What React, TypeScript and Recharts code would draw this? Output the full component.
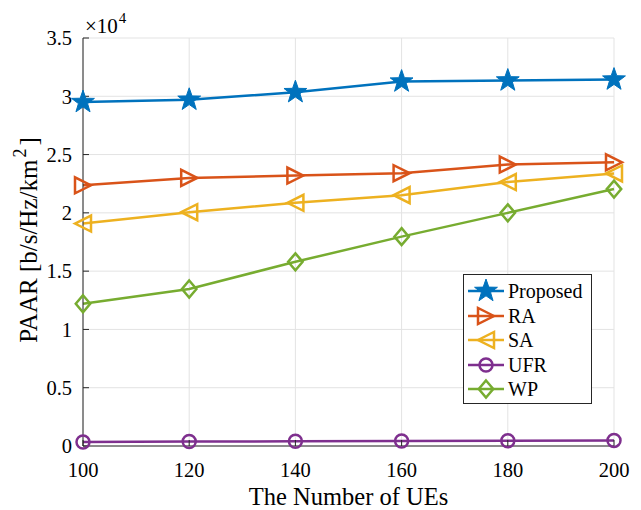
import React from "react";
import { LineChart, Line, XAxis, YAxis, CartesianGrid } from "recharts";

// number of UEs on the x axis
const ues = [100, 120, 140, 160, 180, 200];

// PAAR values in b/s/Hz/km^2 (axis shows them scaled by 1e4)
const proposed = [29500, 29700, 30350, 31260, 31350, 31430];
const ra = [22360, 23000, 23200, 23400, 24140, 24340];
const sa = [19080, 20060, 20860, 21520, 22640, 23380];
const ufr = [350, 380, 400, 430, 450, 480];
const wp = [12200, 13470, 15800, 17960, 20000, 22040];

const yTicks = [0, 5000, 10000, 15000, 20000, 25000, 30000, 35000];

const series = [
  { key: "proposed", name: "Proposed", color: "#0072BD", shape: "star" },
  { key: "ra", name: "RA", color: "#D95319", shape: "right" },
  { key: "sa", name: "SA", color: "#EDB120", shape: "left" },
  { key: "ufr", name: "UFR", color: "#7E2F8E", shape: "circle" },
  { key: "wp", name: "WP", color: "#77AC30", shape: "diamond" },
];

const data = ues.map((u, i) => ({
  ues: u,
  proposed: proposed[i],
  ra: ra[i],
  sa: sa[i],
  ufr: ufr[i],
  wp: wp[i],
}));

const FONT = "'Liberation Serif', 'Times New Roman', serif";
const AXIS = "#262626";

const Marker = ({ cx, cy, shape, color }: any) => {
  if (cx == null || cy == null) return null;
  const sw = 2.5;
  if (shape === "star") {
    const pts: string[] = [];
    for (let i = 0; i < 10; i++) {
      const r = i % 2 === 0 ? 12 : 4.8;
      const a = -Math.PI / 2 + (i * Math.PI) / 5;
      pts.push(`${cx + r * Math.cos(a)},${cy + r * Math.sin(a)}`);
    }
    return <polygon points={pts.join(" ")} fill={color} stroke={color} strokeWidth={1} />;
  }
  if (shape === "right") {
    const s = 8;
    return (
      <polygon
        points={`${cx + s},${cy} ${cx - s},${cy - s} ${cx - s},${cy + s}`}
        fill="none"
        stroke={color}
        strokeWidth={sw}
      />
    );
  }
  if (shape === "left") {
    const s = 8;
    return (
      <polygon
        points={`${cx - s},${cy} ${cx + s},${cy - s} ${cx + s},${cy + s}`}
        fill="none"
        stroke={color}
        strokeWidth={sw}
      />
    );
  }
  if (shape === "circle") {
    return <circle cx={cx} cy={cy} r={6.5} fill="none" stroke={color} strokeWidth={sw} />;
  }
  const s = 8.5;
  return (
    <polygon
      points={`${cx},${cy - s} ${cx + s * 0.85},${cy} ${cx},${cy + s} ${cx - s * 0.85},${cy}`}
      fill="none"
      stroke={color}
      strokeWidth={sw}
    />
  );
};

const LegendBox = () => (
  <div
    style={{
      position: "absolute",
      left: 463,
      top: 274,
      boxSizing: "border-box",
      width: 129,
      height: 130,
      border: `1px solid ${AXIS}`,
      background: "#fff",
      padding: "4px 0 0 0",
      fontFamily: FONT,
      fontSize: 20,
      color: "#000",
    }}
  >
    {series.map((s) => (
      <div key={s.key} style={{ display: "flex", alignItems: "center", height: 24.5 }}>
        <svg width={44} height={24} style={{ flex: "none" }}>
          <line x1={4} y1={12} x2={40} y2={12} stroke={s.color} strokeWidth={2.5} />
          <Marker cx={22} cy={12} shape={s.shape} color={s.color} />
        </svg>
        <span style={{ lineHeight: "20px" }}>{s.name}</span>
      </div>
    ))}
  </div>
);

const YLabel = () => (
  <text
    x={0}
    y={0}
    transform="translate(37,240) rotate(-90)"
    textAnchor="middle"
    fontFamily={FONT}
    fontSize={25}
    fill="#000"
  >
    PAAR [b/s/Hz/km
    <tspan dx={2} dy={-11} fontSize={18}>2</tspan>
    <tspan dx={3} dy={11}>]</tspan>
  </text>
);

const hideTick = () => <g />;

export default function App() {
  return (
    <div style={{ position: "absolute", left: 0, top: 0, width: 641, height: 510, background: "#fff" }}>
      <LineChart
        width={641}
        height={510}
        data={data}
        margin={{ top: 38, right: 27, bottom: 0, left: 0 }}
      >
        <CartesianGrid stroke="#e3e3e3" strokeWidth={1} />
        <XAxis
          dataKey="ues"
          type="number"
          domain={[100, 200]}
          ticks={ues}
          height={64}
          stroke={AXIS}
          tickSize={-6}
          tickMargin={22}
          tick={{ fontFamily: FONT, fontSize: 20.5, fill: "#000" }}
          label={{
            value: "The Number of UEs",
            position: "insideBottom",
            offset: 5,
            style: { fontFamily: FONT, fontSize: 24.5, fill: "#000" },
          }}
        />
        <XAxis
          xAxisId="top"
          dataKey="ues"
          type="number"
          orientation="top"
          domain={[100, 200]}
          ticks={ues}
          height={0}
          stroke={AXIS}
          tickSize={-6}
          tick={hideTick}
        />
        <YAxis
          type="number"
          domain={[0, 35000]}
          ticks={yTicks}
          width={83}
          stroke={AXIS}
          tickSize={-6}
          tickMargin={17}
          tickFormatter={(v: number) => String(v / 10000)}
          tick={{ fontFamily: FONT, fontSize: 20.5, fill: "#000" }}
          label={{ content: () => <YLabel /> }}
        />
        <YAxis
          yAxisId="right"
          type="number"
          orientation="right"
          domain={[0, 35000]}
          ticks={yTicks}
          width={0}
          stroke={AXIS}
          tickSize={-6}
          tick={hideTick}
        />
        {series.map((s) => (
          <Line
            key={s.key}
            dataKey={s.key}
            name={s.name}
            stroke={s.color}
            strokeWidth={2.5}
            isAnimationActive={false}
            dot={(p: any) => <Marker key={`${s.key}-${p.index}`} cx={p.cx} cy={p.cy} shape={s.shape} color={s.color} />}
            activeDot={false}
          />
        ))}
      </LineChart>
      <LegendBox />
      <svg
        width={200}
        height={40}
        style={{ position: "absolute", left: 0, top: 0, pointerEvents: "none" }}
      >
        <text x={85} y={33} fontFamily={FONT} fontSize={21} fill="#000">
          ×10
          <tspan dx={1} dy={-10} fontSize={15}>4</tspan>
        </text>
      </svg>
    </div>
  );
}
